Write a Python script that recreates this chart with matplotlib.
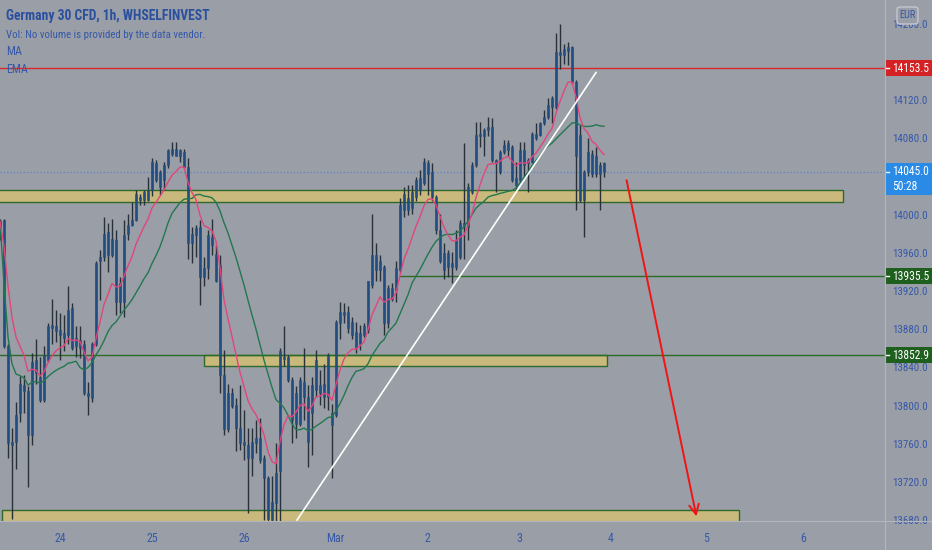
import matplotlib
matplotlib.use('Agg')
from matplotlib import pyplot as plt
from matplotlib import font_manager as fm
from matplotlib.patches import Rectangle, FancyBboxPatch
from matplotlib.lines import Line2D
from matplotlib.transforms import blended_transform_factory
import numpy as np
import pandas as pd

# colours
BG = '#9a9ea7'
TXT = '#3558a8'
BODY = '#214d80'
WICK = '#283039'
PINK = '#e2457c'
GREEN = '#23774f'
ZONE = '#c9b97c'
ZONE_EDGE = '#2f6a2c'

# pick a narrow face if one is around, the chart text is condensed
_fonts = fm.fontManager.ttflist
_names = {f.name for f in _fonts}
SCALE = 1.0
if 'Liberation Sans Narrow' in _names:
    family = ['Liberation Sans Narrow', 'DejaVu Sans']
elif 'Roboto Condensed' in _names:
    family = ['Roboto Condensed', 'DejaVu Sans']
else:
    family = ['Liberation Sans', 'DejaVu Sans']
    SCALE = 0.82
plt.rcParams['font.family'] = family

# hourly candles, Germany 30 CFD
opens = [13977, 13994, 13862, 13762, 13762, 13792, 13822, 13815, 13769, 13848,
         13830, 13806, 13848, 13884, 13883, 13879, 13876, 13874, 13902, 13862,
         13869, 13865, 13813, 13808, 13864, 13951, 13956, 13982, 13958, 13973,
         13909, 13909, 13980, 13989, 13994, 14019, 14015, 14015, 14026, 14054,
         14029, 14036, 14052, 14064, 14069, 14061, 14066, 14050, 13970, 13979,
         13987, 13935, 13944, 13977, 13959, 13947, 13832, 13775, 13813, 13801,
         13776, 13759, 13759, 13745, 13761, 13766, 13745, 13724, 13680, 13698,
         13731, 13851, 13851, 13827, 13781, 13781, 13825, 13809, 13792, 13816,
         13822, 13809, 13853, 13792, 13790, 13886, 13898, 13898, 13888, 13877,
         13865, 13874, 13879, 13926, 13958, 13942, 13945, 13886, 13923, 13921,
         13942, 14005, 14017, 14007, 14019, 14026, 14033, 14054, 14045, 14019,
         13984, 13960, 13960, 13945, 13945, 13956, 13991, 13987, 14024, 14052,
         14082, 14082, 14089, 14092, 14057, 14045, 14066, 14075, 14071, 14038,
         14036, 14068, 14054, 14055, 14085, 14083, 14096, 14102, 14122, 14113,
         14171, 14167, 14172, 14176, 14139, 14083, 14015, 14045, 14064, 14043,
         14052, 14054]
highs = [13995, 13996, 13864, 13776, 13804, 13831, 13832, 13820, 13855, 13870,
         13851, 13862, 13886, 13912, 13900, 13897, 13895, 13925, 13907, 13883,
         13883, 13869, 13825, 13867, 13951, 13963, 13998, 13991, 13996, 13984,
         13935, 13994, 14001, 14013, 14026, 14022, 14026, 14040, 14059, 14057,
         14047, 14055, 14069, 14076, 14076, 14069, 14069, 14059, 13987, 13989,
         13994, 13956, 13984, 13996, 13968, 13958, 13858, 13823, 13818, 13808,
         13822, 13795, 13776, 13776, 13785, 13787, 13748, 13726, 13726, 13761,
         13860, 13883, 13853, 13830, 13820, 13830, 13860, 13822, 13830, 13858,
         13837, 13844, 13855, 13802, 13890, 13909, 13907, 13904, 13893, 13888,
         13884, 13886, 13931, 14001, 13970, 13958, 13947, 13926, 13928, 13951,
         14017, 14029, 14031, 14031, 14040, 14047, 14059, 14057, 14054, 14021,
         14001, 13970, 13963, 13961, 13984, 13994, 14075, 14033, 14055, 14097,
         14097, 14091, 14102, 14101, 14058, 14068, 14078, 14078, 14073, 14055,
         14076, 14076, 14059, 14087, 14096, 14097, 14110, 14122, 14124, 14190,
         14200, 14179, 14181, 14177, 14141, 14094, 14047, 14080, 14068, 14071,
         14055, 14055]
lows = [13973, 13860, 13745, 13681, 13734, 13783, 13792, 13715, 13759, 13823,
        13804, 13804, 13846, 13865, 13867, 13848, 13857, 13865, 13858, 13851,
        13850, 13811, 13790, 13804, 13862, 13911, 13951, 13940, 13956, 13895,
        13897, 13893, 13973, 13988, 13993, 14010, 14010, 14014, 14020, 14034,
        14021, 14026, 14049, 14062, 14061, 14055, 14049, 13954, 13949, 13956,
        13905, 13925, 13933, 13958, 13929, 13813, 13769, 13772, 13797, 13752,
        13753, 13743, 13687, 13726, 13750, 13740, 13680, 13678, 13678, 13678,
        13679, 13841, 13825, 13761, 13766, 13779, 13785, 13736, 13748, 13809,
        13801, 13797, 13795, 13724, 13788, 13870, 13886, 13876, 13870, 13855,
        13858, 13872, 13876, 13923, 13930, 13931, 13874, 13881, 13910, 13909,
        13940, 13998, 14000, 14001, 14014, 14021, 14031, 14021, 14014, 13980,
        13949, 13933, 13935, 13928, 13942, 13954, 13954, 13973, 14022, 14050,
        14071, 14061, 14082, 14055, 14024, 14043, 14064, 14061, 14034, 14027,
        14034, 14040, 14024, 14054, 14078, 14082, 14094, 14100, 14096, 14111,
        14153, 14158, 14157, 14137, 14005, 14013, 13977, 14041, 14040, 14040,
        14005, 14040]
closes = [13993, 13862, 13761, 13759, 13790, 13823, 13815, 13769, 13846, 13834,
          13806, 13853, 13883, 13881, 13878, 13874, 13871, 13900, 13860, 13871,
          13860, 13813, 13810, 13865, 13949, 13956, 13980, 13958, 13975, 13909,
          13928, 13979, 13989, 13994, 14022, 14015, 14024, 14026, 14055, 14036,
          14045, 14052, 14068, 14069, 14062, 14068, 14050, 13970, 13980, 13986,
          13935, 13944, 13979, 13968, 13931, 13832, 13775, 13813, 13799, 13776,
          13761, 13762, 13745, 13762, 13766, 13743, 13724, 13681, 13699, 13729,
          13857, 13849, 13827, 13785, 13813, 13827, 13809, 13762, 13822, 13848,
          13813, 13823, 13809, 13780, 13888, 13898, 13895, 13881, 13874, 13860,
          13876, 13883, 13930, 13958, 13942, 13952, 13886, 13923, 13912, 13944,
          14010, 14022, 14005, 14024, 14036, 14038, 14055, 14043, 14019, 13984,
          13951, 13942, 13945, 13949, 13973, 13991, 13988, 14029, 14052, 14083,
          14085, 14089, 14092, 14057, 14054, 14066, 14073, 14068, 14036, 14031,
          14068, 14052, 14057, 14085, 14080, 14096, 14102, 14115, 14113, 14171,
          14167, 14174, 14176, 14139, 14061, 14015, 14045, 14066, 14043, 14061,
          14043, 14045]

# time axis labels (positions in bar units)
day_labels = ['24', '25', '26', 'Mar', '2', '3', '4', '5', '6']
day_pos = [15, 38, 61, 83.75, 106.75, 129.75, 152.75, 176.5, 200.75]

price_ticks = list(range(13680, 14201, 40))
hidden_ticks = [14160, 14040]  # sit under the price tags

# levels drawn on the chart
red_level = 14153.5
last_price = 14045.0
countdown = '50:28'
green_levels = [13935.5, 13852.9]
green_starts = [100, -1]
zones = [(-1, 210.75, 14013.5, 14026.0),
         (51, 151.75, 13841.5, 13853.0),
         (0.5, 184.75, 13670.0, 13690.5)]
trend_line = [(74.25, 13680.0), (149.0, 14149.0)]
arrow = [(156.5, 14039.0), (174.25, 13681.0)]

closes_s = pd.Series(closes, dtype=float)
ema = closes_s.ewm(span=9, adjust=False).mean()
sma = closes_s.rolling(20, min_periods=1).mean()

fig = plt.figure(figsize=(9.32, 5.5), dpi=100)
fig.patch.set_facecolor(BG)
ax = fig.add_axes([0, 29 / 550, 885 / 932, 521 / 550])
ax.set_facecolor(BG)
for s in ax.spines.values():
    s.set_visible(False)

x = np.arange(len(closes))
ax.set_xlim(0, 221.25)
ax.set_ylim(13679, 14225)

# zones
for x0, x1, lo, hi in zones:
    ax.add_patch(Rectangle((x0, lo), x1 - x0, hi - lo, facecolor=ZONE,
                           edgecolor=ZONE_EDGE, lw=1, zorder=1))

# horizontal levels
ax.axhline(red_level, color='#d8282b', lw=1, zorder=1.5)
ax.axhline(last_price, color='#4f7fd0', lw=0.8, ls=(0, (1, 2)), zorder=1.5)
for lvl, start in zip(green_levels, green_starts):
    ax.plot([start, 221.25], [lvl, lvl], color='#2a6b26', lw=1, zorder=1.5)

# candles
o = np.array(opens)
c = np.array(closes)
ax.vlines(x, lows, highs, color=WICK, lw=1, zorder=2)
bottoms = np.minimum(o, c)
heights = np.maximum(np.abs(c - o), 1.2)
ax.bar(x, heights, bottom=bottoms, width=0.72, color=BODY,
       edgecolor=BODY, lw=0.4, zorder=3)

# moving averages
ax.plot(x, sma, color=GREEN, lw=1, zorder=4)
ax.plot(x, ema, color=PINK, lw=1, zorder=4)

# drawings
(tx0, ty0), (tx1, ty1) = trend_line
ax.plot([tx0, tx1], [ty0, ty1], color='white', lw=1.2, zorder=5)
(ax0, ay0), (ax1, ay1) = arrow
ax.annotate('', xy=(ax1, ay1), xytext=(ax0, ay0),
            arrowprops=dict(arrowstyle='->,head_length=0.7,head_width=0.35',
                            color='#f01414', lw=1.4), zorder=5)

# axes ticks
fs = 7.9 * SCALE
ax.yaxis.tick_right()
ax.set_yticks(price_ticks)
ax.set_yticklabels(['' if v in hidden_ticks else f'{v:.1f}' for v in price_ticks])
ax.tick_params(axis='y', length=0, pad=5, labelsize=fs, labelcolor=TXT)
ax.set_xticks(day_pos)
ax.set_xticklabels(day_labels)
ax.tick_params(axis='x', length=0, pad=8, labelsize=8.6 * SCALE, labelcolor=TXT)

# separators
fig.add_artist(Line2D([885 / 932, 885 / 932], [0, 1], color='#b3b6bd', lw=0.8))
fig.add_artist(Line2D([0, 1], [29 / 550, 29 / 550], color='#b3b6bd', lw=0.8))

# price tags on the axis
trans = blended_transform_factory(ax.transAxes, ax.transData)
PX = 1.047  # price per pixel
tag_w = 47 / 885
tfs = 8.3 * SCALE


def price_tag(price, text, color, top_px=8, bottom_px=8, sub=None):
    ax.add_patch(Rectangle((1.0, price - bottom_px * PX), tag_w,
                           (top_px + bottom_px) * PX, transform=trans,
                           facecolor=color, edgecolor='none', clip_on=False,
                           zorder=10))
    ax.plot([1.0, 1.0 + 4 / 885], [price, price], transform=trans,
            color='white', lw=1, clip_on=False, zorder=11)
    ax.text(1.0 + 7 / 885, price, text, transform=trans, color='white',
            fontsize=tfs, ha='left', va='center', clip_on=False, zorder=11)
    if sub:
        ax.text(1.0 + 7 / 885, price - 14.5 * PX, sub, transform=trans,
                color='white', fontsize=tfs, ha='left', va='center',
                clip_on=False, zorder=11)


price_tag(red_level, f'{red_level:.1f}', '#d32124')
price_tag(last_price, f'{last_price:.1f}', '#2a8be6', top_px=9, bottom_px=23,
          sub=countdown)
for lvl in green_levels:
    price_tag(lvl, f'{lvl:.1f}', '#1f5f1e')

# currency badge
fig.add_artist(FancyBboxPatch((897 / 932, 1 - 24 / 550), 21 / 932, 17 / 550,
                              boxstyle='round,pad=0,rounding_size=0.004',
                              transform=fig.transFigure, facecolor=BG,
                              edgecolor='#c4c7ce', lw=1))
fig.text(907.5 / 932, 1 - 15.5 / 550, 'EUR', color=TXT, fontsize=7.5 * SCALE,
         ha='center', va='center')

# legend block
fig.text(6 / 932, 1 - 16 / 550, 'Germany 30 CFD, 1h, WHSELFINVEST',
         color='#2a4f9e', fontsize=9.8 * SCALE, fontweight='bold', va='center')
fig.text(6 / 932, 1 - 35 / 550, 'Vol: No volume is provided by the data vendor.',
         color=TXT, fontsize=7.8 * SCALE, va='center')
fig.text(6 / 932, 1 - 52 / 550, 'MA', color=TXT, fontsize=8.6 * SCALE, va='center')
fig.text(6 / 932, 1 - 70 / 550, 'EMA', color=TXT, fontsize=8.6 * SCALE, va='center')

fig.savefig('out.png', dpi=100, facecolor=BG)
